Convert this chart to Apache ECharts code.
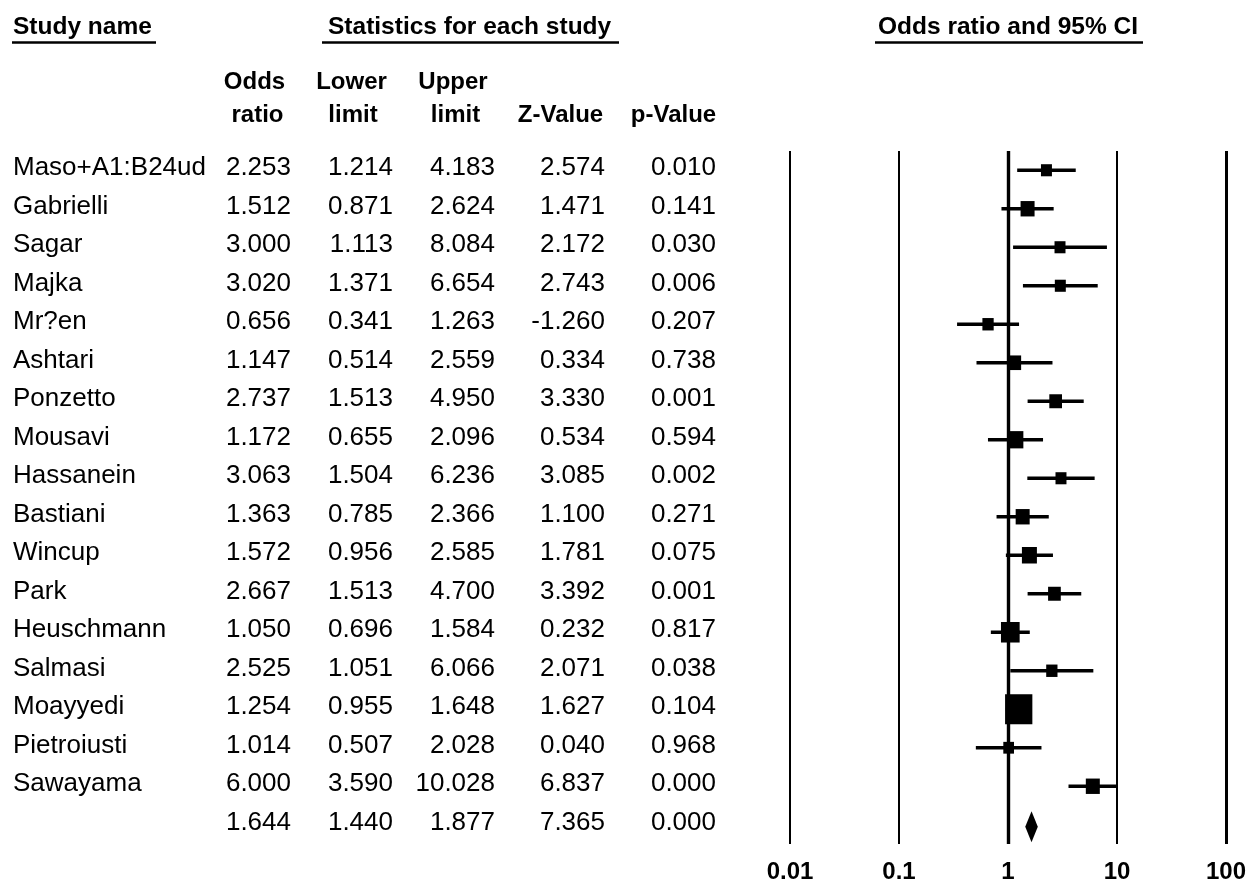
<!DOCTYPE html>
<html><head><meta charset="utf-8">
<script src="https://cdn.jsdelivr.net/npm/echarts@6/dist/echarts.min.js"></script>
<style>html,body{margin:0;padding:0;background:#fff}#c{width:1256px;height:884px}</style>
</head><body><div id="c"></div>
<script>
// ---- data ----
const studies = ["Maso+A1:B24ud","Gabrielli","Sagar","Majka","Mr?en","Ashtari","Ponzetto","Mousavi","Hassanein","Bastiani","Wincup","Park","Heuschmann","Salmasi","Moayyedi","Pietroiusti","Sawayama",""];
const oddsRatio  = [2.253,1.512,3.000,3.020,0.656,1.147,2.737,1.172,3.063,1.363,1.572,2.667,1.050,2.525,1.254,1.014,6.000,1.644];
const lowerLimit = [1.214,0.871,1.113,1.371,0.341,0.514,1.513,0.655,1.504,0.785,0.956,1.513,0.696,1.051,0.955,0.507,3.590,1.440];
const upperLimit = [4.183,2.624,8.084,6.654,1.263,2.559,4.950,2.096,6.236,2.366,2.585,4.700,1.584,6.066,1.648,2.028,10.028,1.877];
const zValue     = [2.574,1.471,2.172,2.743,-1.260,0.334,3.330,0.534,3.085,1.100,1.781,3.392,0.232,2.071,1.627,0.040,6.837,7.365];
const pValue     = [0.010,0.141,0.030,0.006,0.207,0.738,0.001,0.594,0.002,0.271,0.075,0.001,0.817,0.038,0.104,0.968,0.000,0.000];
// relative study weights (box area)
const relWeight  = [1.62,2.63,1.62,1.62,1.71,2.37,2.17,3.31,1.62,2.63,3.02,2.17,4.69,1.71,10.0,1.54,2.63];
const tickLabels = ["0.01","0.1","1","10","100"];
const headerTitles = ["Study name","Statistics for each study","Odds ratio and 95% CI"];
const colHeaders = [["Odds","ratio"],["Lower","limit"],["Upper","limit"],["","Z-Value"],["","p-Value"]];
const summaryIndex = studies.length - 1;

// ---- layout / style ----
const FONT = "'Liberation Sans', Arial, Helvetica, sans-serif";
const GRID_TOP = 151, GRID_H = 693;
const nameLeft = 13;
const colRight = [291, 393, 495, 605, 716];
const headerCenters = [[254.5,257.5],[351.5,353],[453,455.5],[0,560.5],[0,673.5]];
const BOX_K = 8.63;

const chart = echarts.init(document.getElementById('c'), null, {renderer:'canvas'});

const graphics = [];
const titleX = [13, 328, 878];
const ulines = [[12,156],[322,619],[875,1143]];
headerTitles.forEach((t,k)=>{
  graphics.push({type:'text', x:titleX[k], y:27, style:{text:t, fontSize:24.5, fontWeight:'bold', fontFamily:FONT, fill:'#000', align:'left', verticalAlign:'middle'}});
  graphics.push({type:'line', shape:{x1:ulines[k][0], y1:42.5, x2:ulines[k][1], y2:42.5}, style:{stroke:'#000', lineWidth:2.5}});
});
colHeaders.forEach((pair,k)=>{
  pair.forEach((t,l)=>{
    if(!t) return;
    graphics.push({type:'text', x:headerCenters[k][l], y: l===0 ? 82 : 115, style:{text:t, fontSize:24, fontWeight:'bold', fontFamily:FONT, fill:'#000', align:'center', verticalAlign:'middle'}});
  });
});

const option = {
  backgroundColor:'#fff',
  animation:false,
  graphic: graphics,
  grid:[
    {left:790, width:436, top:GRID_TOP, height:GRID_H},
    {left:0, width:1256, top:GRID_TOP, height:GRID_H}
  ],
  xAxis:[
    {type:'log', logBase:10, min:0.01, max:100, gridIndex:0,
     axisLine:{show:false}, axisTick:{show:false},
     splitLine:{show:true, lineStyle:{color:'#000', width:2}},
     axisLabel:{show:true, fontSize:24, fontWeight:'bold', fontFamily:FONT, color:'#000', margin:16,
       formatter:(v)=> tickLabels[Math.round(Math.log10(v))+2]}},
    {type:'value', min:0, max:1256, gridIndex:1, show:false}
  ],
  yAxis:[
    {type:'category', data:studies.map((s,i)=>s||('summary'+i)), inverse:true, gridIndex:0, show:false},
    {type:'category', data:studies.map((s,i)=>s||('summary'+i)), inverse:true, gridIndex:1, show:false}
  ],
  series:[
    {
      type:'custom', xAxisIndex:0, yAxisIndex:0, clip:false,
      data: oddsRatio.map((v,i)=>[i, lowerLimit[i], v, upperLimit[i]]),
      encode:{y:0, x:[1,2,3]},
      renderItem:(params, api)=>{
        const i = api.value(0);
        const pL = api.coord([api.value(1), i]);
        const pM = api.coord([api.value(2), i]);
        const pU = api.coord([api.value(3), i]);
        const band = api.coord([1, i+1])[1] - api.coord([1, i])[1];
        if(i === summaryIndex){
          const h = band*0.4, y = pM[1]+2;
          return {type:'polygon', shape:{points:[[pL[0],y],[pM[0],y-h],[pU[0],y],[pM[0],y+h]]}, style:{fill:'#000'}};
        }
        const s = BOX_K * Math.sqrt(relWeight[i]);
        const hgt = s*1.1;
        return {type:'group', children:[
          {type:'line', shape:{x1:pL[0], y1:pL[1], x2:pU[0], y2:pU[1]}, style:{stroke:'#000', lineWidth:3.5}},
          {type:'rect', shape:{x:pM[0]-s/2, y:pM[1]-hgt/2, width:s, height:hgt}, style:{fill:'#000'}}
        ]};
      },
      markLine:{silent:true, symbol:'none', label:{show:false},
        data:[{xAxis:1, lineStyle:{color:'#000', width:3.4, type:'solid'}},
              {xAxis:100, lineStyle:{color:'#000', width:3, type:'solid'}}]}
    },
    {
      type:'custom', xAxisIndex:1, yAxisIndex:1, clip:false,
      data: studies.map((s,i)=>[0, i]),
      encode:{x:0, y:1},
      renderItem:(params, api)=>{
        const i = api.value(1);
        const y = api.coord([0, i])[1] - 2;
        const vals = [oddsRatio[i], lowerLimit[i], upperLimit[i], zValue[i], pValue[i]];
        const children = [];
        const st = {fontSize:26, fontFamily:FONT, fill:'#000', verticalAlign:'middle'};
        if(studies[i]) children.push({type:'text', x:api.coord([nameLeft, i])[0], y:y, style:Object.assign({text:studies[i], align:'left'}, st)});
        vals.forEach((v,k)=>{
          children.push({type:'text', x:api.coord([colRight[k], i])[0], y:y, style:Object.assign({text:v.toFixed(3), align:'right'}, st)});
        });
        return {type:'group', children};
      }
    }
  ]
};
chart.setOption(option);
</script>
</body></html>
